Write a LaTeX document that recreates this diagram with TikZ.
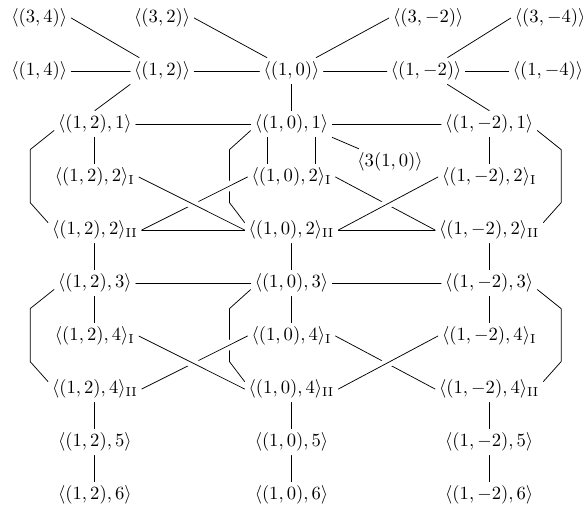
\documentclass[tikz,border=0pt]{standalone}
\begin{document}
\begin{tikzpicture}[line join=round, line cap=round, every node/.style={inner sep=2pt},
	over/.style={preaction={draw=white, line width=5pt, shorten <=8pt, shorten >=8pt}}]
	\useasboundingbox (0,0) rectangle (11,9.55);
	% top two rows
	\node (t34) at (0.74,9.21) {$\langle(3,4)\rangle$};
	\node (t32) at (3.06,9.21) {$\langle(3,2)\rangle$};
	\node (t3m2) at (8.08,9.21) {$\langle(3,-2)\rangle$};
	\node (t3m4) at (10.38,9.21) {$\langle(3,-4)\rangle$};
	\node (s14) at (0.74,8.21) {$\langle(1,4)\rangle$};
	\node (s12) at (3.06,8.21) {$\langle(1,2)\rangle$};
	\node (s10) at (5.5,8.21) {$\langle(1,0)\rangle$};
	\node (s1m2) at (8.04,8.21) {$\langle(1,-2)\rangle$};
	\node (s1m4) at (10.34,8.21) {$\langle(1,-4)\rangle$};
	\draw (t34.east) -- (s12);
	\draw (t32.east) -- (s10);
	\draw (s10) -- (t3m2.west);
	\draw (s1m2) -- (t3m4.west);
	\draw (s14) -- (s12);
	\draw (s12) -- (s10);
	\draw (s10) -- (s1m2);
	\draw (s1m2) -- (s1m4);
	% three columns
	\foreach \c/\x/\g in {a/1.79/{(1,2)}, b/5.5/{(1,0)}, c/9.23/{(1,-2)}} {
		\node (\c1) at (\x,7.21) {$\langle\g,1\rangle$};
		\node (\c2i) at (\x,6.21) {$\langle\g,2\rangle_{\mathrm{I}}$};
		\node (\c2ii) at (\x,5.21) {$\langle\g,2\rangle_{\mathrm{II}}$};
		\node (\c3) at (\x,4.21) {$\langle\g,3\rangle$};
		\node (\c4i) at (\x,3.21) {$\langle\g,4\rangle_{\mathrm{I}}$};
		\node (\c4ii) at (\x,2.21) {$\langle\g,4\rangle_{\mathrm{II}}$};
		\node (\c5) at (\x,1.21) {$\langle\g,5\rangle$};
		\node (\c6) at (\x,0.21) {$\langle\g,6\rangle$};
		\draw (\c2ii) -- (\c3);
		\draw (\c4ii) -- (\c5);
		\draw (\c5) -- (\c6);
		\draw (\c3) -- (\c4i);
	}
	\node (m310) at (7.36,6.49) {$\langle3(1,0)\rangle$};
	\draw (s12.south west) -- (a1.north);
	\draw (s10) -- (b1);
	\draw (s1m2) -- (c1.north);
	\draw (b1.south east) -- (m310);
	\draw ([xshift=-0.45cm]b1.south) -- ([xshift=-0.45cm]b2i.north);
	\draw ([xshift=0.45cm]b1.south) -- ([xshift=0.45cm]b2i.north);
	\draw (a2ii) -- (b2ii);
	\draw (b2ii) -- (c2ii);
	% repeated blocks
	\foreach \u/\v/\w in {1/2i/2ii, 3/4i/4ii} {
		\draw (a\u) -- (b\u);
		\draw (b\u) -- (c\u);
		\draw (a\u) -- (a\v);
		\draw (c\u) -- (c\v);
		\draw ([yshift=-3.5pt]a\u.west) -- ++(-0.45,-0.36) -- ++(0,-1) -- ([yshift=4pt]a\w.west);
		\draw ([yshift=-3.5pt]b\u.west) -- ++(-0.4,-0.36) -- ++(0,-1) -- ([yshift=4pt]b\w.west);
		\draw ([yshift=-3.5pt]c\u.east) -- ++(0.45,-0.36) -- ++(0,-1) -- ([yshift=4pt]c\w.east);
		\draw[over] (a\w.east) -- (b\v.west);
		\draw[over] (a\v.east) -- (b\w.west);
		\draw (b\v.east) -- (c\w.west);
		\draw[over] (b\w.east) -- (c\v.west);
	}
\end{tikzpicture}
\end{document}
